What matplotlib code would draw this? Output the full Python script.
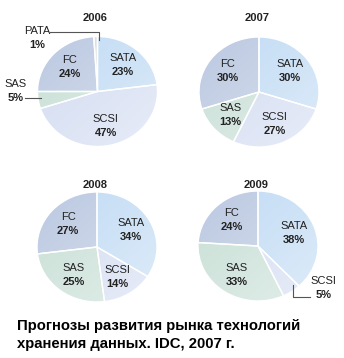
import numpy as np
import matplotlib
matplotlib.use("Agg")
import matplotlib.pyplot as plt
from matplotlib.colors import to_rgb

# data
years = ["2006", "2007", "2008", "2009"]
segments = ["SATA", "SCSI", "SAS", "FC", "PATA"]
shares = {
    "2006": [23, 47, 5, 24, 1],
    "2007": [30, 27, 13, 30, 0],
    "2008": [34, 14, 25, 27, 0],
    "2009": [38, 5, 33, 24, 0],
}
caption = "Прогнозы развития рынка технологий\nхранения данных. IDC, 2007 г."

colors = {"SATA": "#bcd8f3", "SCSI": "#cfd9f0", "SAS": "#c4ddd3",
          "FC": "#b7c5df", "PATA": "#d8d8d8"}

narrow = ["Liberation Sans Narrow", "Liberation Sans", "DejaVu Sans"]
plt.rcParams["font.family"] = ["Liberation Sans", "DejaVu Sans"]

W, H = 344, 358
fig = plt.figure(figsize=(W / 100, H / 100), dpi=100)
fig.patch.set_facecolor("white")

# pixel centres of each pie, title height, radii
centres = {"2006": (97.5, 91.5), "2007": (259, 92), "2008": (97, 247), "2009": (258, 246)}
title_y = {"2006": 18, "2007": 18, "2008": 185, "2009": 185}
rx, ry = 60, 55

# labels that sit outside the pie: (label x, label y, leader path) in axes data units
outside = {
    ("2006", "PATA"): (-1.01, 0.97, [(-0.79, 1.08), (0.03, 1.08), (0.03, 0.93)]),
    ("2006", "SAS"): (-1.36, 0.01, [(-1.21, -0.12), (-0.94, -0.12)]),
    ("2009", "SCSI"): (1.09, -0.76, [(0.58, -0.71), (0.58, -0.93), (0.87, -0.93)]),
}

gx, gy = np.meshgrid(np.linspace(-1, 1, 200), np.linspace(1, -1, 200))
grad = np.clip((gx - gy + 2) / 4, 0, 1)

for yr in years:
    cx, cy = centres[yr]
    ax = fig.add_axes([(cx - rx) / W, (H - cy - ry) / H, 2 * rx / W, 2 * ry / H])
    vals = shares[yr]
    names = [s for s, v in zip(segments, vals) if v > 0]
    vals = [v for v in vals if v > 0]
    wedges, _ = ax.pie(vals, startangle=90, counterclock=False, radius=1,
                       wedgeprops=dict(edgecolor="white", linewidth=1.0))
    ax.set_aspect("auto")
    ax.set_xlim(-1, 1)
    ax.set_ylim(-1, 1)
    ax.axis("off")

    for w, name in zip(wedges, names):
        base = np.array(to_rgb(colors[name]))
        a = 0.05 + 0.45 * grad[..., None]
        img = base[None, None, :] * (1 - a) + a
        im = ax.imshow(img, extent=(-1, 1, -1, 1), aspect="auto", zorder=0.5)
        im.set_clip_path(w)
        w.set_facecolor("none")
        w.set_zorder(1)

    total = sum(vals)
    start = 90.0
    dy = 7.0 / ry
    for v, name in zip(vals, names):
        ang = np.deg2rad(start - 360.0 * v / total / 2)
        start -= 360.0 * v / total
        if (yr, name) in outside:
            tx, ty, path = outside[(yr, name)]
            px, py = zip(*path)
            ax.plot(px, py, color="#555555", lw=0.8, clip_on=False)
        else:
            tx, ty = 0.64 * np.cos(ang), 0.64 * np.sin(ang)
        ax.text(tx, ty + dy, name, ha="center", va="center", fontsize=8,
                family=narrow, color="#222222", clip_on=False)
        ax.text(tx, ty - dy, f"{v}%", ha="center", va="center", fontsize=8,
                family=narrow, fontweight="bold", color="#222222", clip_on=False)

    fig.text((cx - 2) / W, 1 - title_y[yr] / H, yr, ha="center", va="center",
             fontsize=8, fontweight="bold", color="#222222")

fig.text(17 / W, 1 - 335 / H, caption, ha="left", va="center", fontsize=10.7,
         fontweight="bold", color="black", linespacing=1.35)

fig.savefig("out.png", dpi=100, facecolor="white")
